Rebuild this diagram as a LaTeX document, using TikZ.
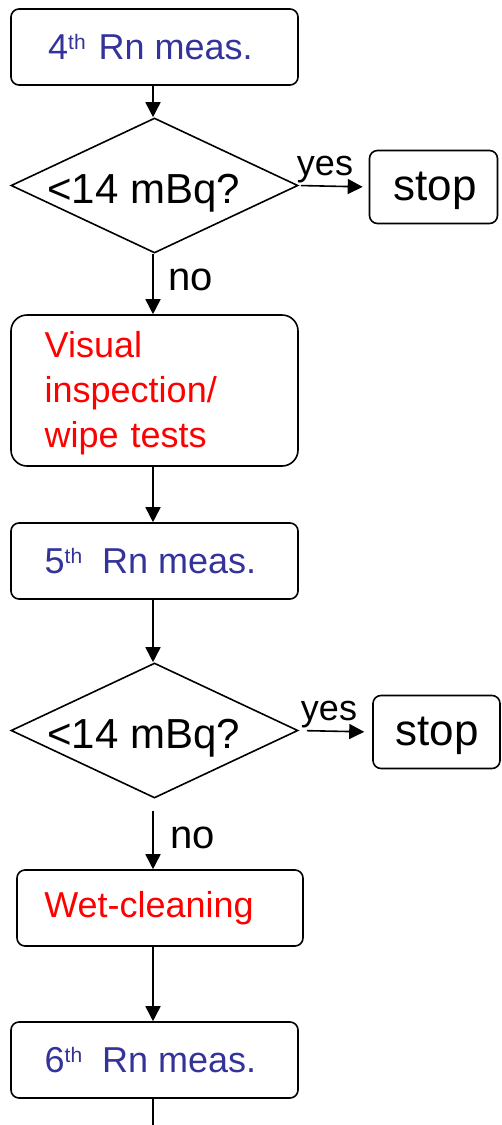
\documentclass[tikz,border=0pt]{standalone}
\usepackage{fontspec}
\setmainfont{Liberation Sans}
\usetikzlibrary{shapes.geometric,arrows.meta}
\definecolor{measblue}{HTML}{333399}
\definecolor{actred}{HTML}{FF0000}
\newcommand{\thsup}{\raisebox{10pt}{\fontsize{21}{21}\selectfont th}}
\begin{document}
\begin{tikzpicture}[x=1pt,y=-1pt,
  box/.style={draw, line width=1.6pt, rounded corners=8pt, minimum width=287pt,
    minimum height=76pt, inner sep=0pt, font=\fontsize{36}{45}\selectfont},
  dec/.style={draw, diamond, line width=1.6pt, minimum width=287pt,
    minimum height=135pt, inner sep=0pt},
  dectext/.style={anchor=base west, inner sep=0pt, font=\fontsize{42}{42}\selectfont},
  stopbox/.style={draw, line width=1.6pt, rounded corners=8pt, minimum width=128pt,
    minimum height=73pt, inner sep=0pt},
  stoptext/.style={anchor=base, inner sep=0pt, font=\fontsize{44}{44}\selectfont},
  lbl/.style={inner sep=0pt, font=\fontsize{36}{36}\selectfont},
  arr/.style={line width=1.6pt, -{Triangle[length=15pt,width=15pt]}}]
\useasboundingbox (0,0) rectangle (501,1125);

\node[box, text=measblue] (b4) at (154.5,47) {4\thsup\hspace{3pt} Rn meas.\hspace*{8pt}};
\node[dec] (d1) at (154.5,185.5) {};
\node[dectext] (t1) at (47,203) {<14 mBq?};
\node[stopbox] (s1) at (433.5,187) {};
\node[stoptext] (st1) at (435,200) {stop};
\node[lbl, anchor=base] (y1) at (325,175) {yes};
\node[lbl, anchor=base west, font=\fontsize{40}{40}\selectfont] (n1) at (168,290) {no};
\node[box, minimum height=151pt, rounded corners=16pt] (v) at (154.5,390.5) {};
\node[lbl, anchor=north west, text width=220pt, align=left, text=actred,
  font=\fontsize{36}{45}\selectfont] (vt) at (44.5,331) {Visual\\inspection/\\wipe tests};
\node[box, text=measblue] (b5) at (154.5,561) {5\thsup~~Rn meas.\hspace*{8pt}};
\node[dec] (d2) at (154.5,730.5) {};
\node[dectext] (t2) at (47,748) {<14 mBq?};
\node[stopbox, minimum width=127pt] (s2) at (436.5,732) {};
\node[stoptext] (st2) at (437,745) {stop};
\node[lbl, anchor=base] (y2) at (329,720) {yes};
\node[lbl, anchor=base west, font=\fontsize{40}{40}\selectfont] (n2) at (170,848) {no};
\node[box, minimum width=286pt, text=actred] (w) at (160,908) {Wet-cleaning\hspace*{22pt}};
\node[box, text=measblue] (b6) at (154.5,1060) {6\thsup~~Rn meas.\hspace*{8pt}};
\coordinate (end) at (153,1127);

\draw[arr] (b4.south -| 153,0) -- (d1.north -| 153,0);
\draw[arr, shorten <=2pt, shorten >=6pt] (d1.east) -- (s1.west);
\draw[arr] (d1.south -| 153,0) -- (v.north -| 153,0);
\draw[arr] (v.south -| 153,0) -- (b5.north -| 153,0);
\draw[arr] (b5.south -| 153,0) -- (d2.north -| 153,0);
\draw[arr, shorten <=8pt, shorten >=8pt] (d2.east) -- (s2.west);
\draw[arr] ([yshift=-12pt]d2.south -| 153,0) -- (w.north -| 153,0);
\draw[arr] (w.south -| 153,0) -- (b6.north -| 153,0);
\draw[line width=1.6pt] (b6.south -| 153,0) -- (end);
\end{tikzpicture}
\end{document}
